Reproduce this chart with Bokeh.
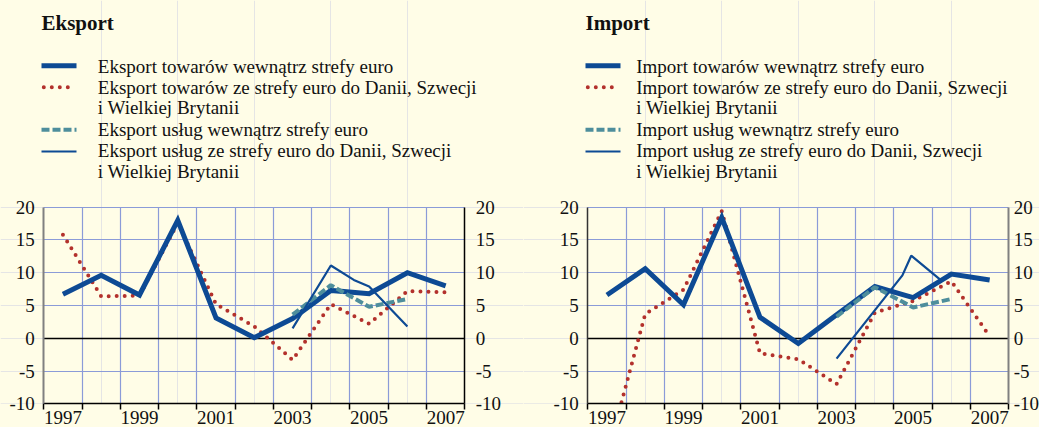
from bokeh.plotting import figure
from bokeh.models import Range1d, FixedTicker, LinearAxis, Grid, GlobalInlineStyleSheet
from bokeh.layouts import row
from bokeh.embed import file_html
from bokeh.resources import INLINE
from bokeh.core.properties import value

# ---------------- data ----------------
years = [1997, 1998, 1999, 2000, 2001, 2002, 2003, 2004, 2005, 2006, 2007]
label_years = [1997, 1999, 2001, 2003, 2005, 2007]
year_labels = ["1997", "1999", "2001", "2003", "2005", "2007"]
y_ticks = [-10, -5, 0, 5, 10, 15, 20]
y_labels = ["-10", "-5", "0", "5", "10", "15", "20"]

exp_goods_intra = [6.7, 9.6, 6.6, 18.0, 3.1, 0.1, 3.0, 7.3, 6.8, 10.0, 8.0]
exp_goods_extra = [15.8, 6.4, 6.5, 17.6, 5.2, 1.8, -3.3, 5.2, 2.2, 7.2, 7.0]
serv_years = [2003, 2004, 2005, 2006]
exp_serv_intra = [3.6, 8.1, 4.8, 6.0]
exp_serv_extra_x = [2003.0, 2004.0, 2004.6, 2005.0, 2006.0]
exp_serv_extra = [1.5, 11.1, 8.9, 7.9, 1.8]

imp_goods_intra = [6.6, 10.6, 5.1, 18.4, 3.2, -0.8, 3.6, 7.9, 6.2, 9.8, 8.9]
imp_goods_extra = [-18.0, 3.7, 7.4, 19.4, -2.3, -3.2, -7.0, 3.9, 5.7, 8.7, 0.3]
imp_serv_intra = [3.3, 7.8, 4.7, 6.0]
imp_serv_extra_x = [2003.0, 2004.72, 2004.95, 2005.7]
imp_serv_extra = [-3.1, 9.6, 12.6, 9.0]

exp_title = "Eksport"
exp_legend = [
    ["Eksport towarów wewnątrz strefy euro"],
    ["Eksport towarów ze strefy euro do Danii,  Szwecji", "i Wielkiej Brytanii"],
    ["Eksport usług wewnątrz strefy euro"],
    ["Eksport usług ze strefy euro do Danii,  Szwecji", "i Wielkiej Brytanii"],
]
imp_title = "Import"
imp_legend = [
    ["Import towarów wewnątrz strefy euro"],
    ["Import towarów ze strefy euro do Danii,  Szwecji", "i Wielkiej Brytanii"],
    ["Import usług wewnątrz strefy euro"],
    ["Import usług ze strefy euro do Danii,  Szwecji", "i Wielkiej Brytanii"],
]

# ---------------- styles ----------------
BG = "#FFFDE7"
BLUE = "#0D4A94"
RED = "#B3312C"
TEAL = "#4E8E9C"
GRID = "#8B9BD8"
TXT = "#111111"
FONT = "Liberation Serif"

STYLES = [
    dict(line_color=BLUE, line_width=5, line_join="miter"),
    dict(line_color=RED, line_width=4, line_dash="0 8", line_cap="round"),
    dict(line_color=TEAL, line_width=4, line_dash="8 3"),
    dict(line_color=BLUE, line_width=2.2),
]

H = 427
X0, X1 = 1996.5, 2007.5
Y0, Y1 = -10, 20
FRAME_TOP, FRAME_BOT = 206.7, 403.3
PX_PER_YEAR = 421.0 / 11
PX_PER_UNIT = (FRAME_BOT - FRAME_TOP) / (Y1 - Y0)
HAS_CB = "cross_bounds" in Grid.properties()


def make_panel(width, frame_left, title, entries, sample_x, text_x,
               goods_intra, goods_extra, serv_intra, serv_extra_x, serv_extra,
               left_col, left_w, left_so, right_col, right_w, right_so):
    xs0 = X0 - frame_left / PX_PER_YEAR
    xs1 = X0 + (width - frame_left) / PX_PER_YEAR
    ys1 = Y1 + FRAME_TOP / PX_PER_UNIT
    ys0 = Y0 - (H - FRAME_BOT) / PX_PER_UNIT

    def px(v):
        return X0 + (v - frame_left) / PX_PER_YEAR

    def py(v):
        return Y1 - (v - FRAME_TOP) / PX_PER_UNIT

    p = figure(width=width, height=H, x_range=Range1d(xs0, xs1), y_range=Range1d(ys0, ys1),
               output_backend="svg", toolbar_location=None, min_border=0,
               background_fill_color=BG, border_fill_color=BG,
               x_axis_location=None, y_axis_location=None)
    p.outline_line_color = None

    # grid lines
    xg = [y + 0.5 for y in years[:-1]]
    yg = [-5, 5, 10, 15, 20]
    if HAS_CB:
        g1 = Grid(dimension=0, ticker=FixedTicker(ticks=xg), cross_bounds=(Y0, Y1),
                  grid_line_color=GRID, grid_line_width=1.2)
        g2 = Grid(dimension=1, ticker=FixedTicker(ticks=yg), cross_bounds=(X0, X1),
                  grid_line_color=GRID, grid_line_width=1.2)
        g3 = Grid(dimension=1, ticker=FixedTicker(ticks=[0]), cross_bounds=(X0, X1),
                  grid_line_color="black", grid_line_width=1.5)
        for g in (g1, g2, g3):
            p.add_layout(g)
    else:
        p.segment(x0=xg, x1=xg, y0=[Y0] * len(xg), y1=[Y1] * len(xg),
                  line_color=GRID, line_width=1.2)
        p.segment(x0=[X0] * len(yg), x1=[X1] * len(yg), y0=yg, y1=yg,
                  line_color=GRID, line_width=1.2)
        p.segment(x0=[X0], x1=[X1], y0=[0], y1=[0], line_color="black", line_width=1.5)

    # data lines
    p.line(x=years, y=goods_extra, **STYLES[1])
    p.line(x=years, y=goods_intra, **STYLES[0])
    p.line(x=serv_years, y=serv_intra, **STYLES[2])
    p.line(x=serv_extra_x, y=serv_extra, **STYLES[3])
    # mask anything below the bottom of the plot area
    p.quad(left=[xs0], right=[xs1], bottom=[ys0], top=[Y0], fill_color=BG, line_color=None)

    # x axis
    xa = LinearAxis(ticker=FixedTicker(ticks=label_years,
                                       minor_ticks=[y - 0.5 for y in years] + [X1]))
    xa.major_label_overrides = {float(y): l for y, l in zip(label_years, year_labels)}
    xa.fixed_location = Y0
    xa.bounds = (X0, X1)
    xa.major_tick_out = 0
    xa.major_tick_in = 0
    xa.minor_tick_out = 6
    xa.minor_tick_in = 0
    xa.minor_tick_line_color = "black"
    xa.minor_tick_line_width = 1.5
    xa.axis_line_color = "black"
    xa.axis_line_width = 1.5
    xa.major_label_standoff = 1
    xa.major_label_text_font = FONT
    xa.major_label_text_font_size = "19px"
    xa.major_label_text_color = TXT
    p.add_layout(xa, "below")

    for side, col, lw, loc, so in (("left", left_col, left_w, X0, left_so),
                                   ("right", right_col, right_w, X1, right_so)):
        ya = LinearAxis(ticker=FixedTicker(ticks=y_ticks, minor_ticks=[]))
        ya.major_label_overrides = {float(t): l for t, l in zip(y_ticks, y_labels)}
        ya.fixed_location = loc
        ya.bounds = (Y0, Y1)
        ya.major_tick_out = 0
        ya.major_tick_in = 0
        ya.axis_line_color = col
        ya.axis_line_width = lw
        ya.major_label_standoff = so
        ya.major_label_text_font = FONT
        ya.major_label_text_font_size = "19px"
        ya.major_label_text_color = TXT
        p.add_layout(ya, side)

    # legend (positions in pixels, converted through the plot scales)
    p.text(x=[px(sample_x)], y=[py(22)], text=[title], text_font=value(FONT),
           text_font_size="21px", text_font_style="bold", text_color=TXT,
           text_baseline="alphabetic")
    sample_y = [65.3, 86.7, 129.3, 151.0]
    text_y = [[65.5], [86.5, 107.0], [129.0], [150.0, 170.5]]
    for i, (lines, st) in enumerate(zip(entries, STYLES)):
        if i == 1:
            lx = [sample_x + 2.3, sample_x + 32.3]
        else:
            lx = [sample_x, sample_x + 35]
        p.line(x=[px(v) for v in lx], y=[py(sample_y[i])] * 2, **st)
        for t, ty in zip(lines, text_y[i]):
            p.text(x=[px(text_x)], y=[py(ty)], text=[t], text_font=value(FONT),
                   text_font_size="19px", text_color=TXT, text_baseline="alphabetic")
    return p


left = make_panel(523, 43.3, exp_title, exp_legend, 41, 97.3,
                  exp_goods_intra, exp_goods_extra, exp_serv_intra,
                  exp_serv_extra_x, exp_serv_extra,
                  "#808080", 2, 9, "black", 1.5, 11)
right = make_panel(516, 64.3, imp_title, imp_legend, 62, 112.7,
                   imp_goods_intra, imp_goods_extra, imp_serv_intra,
                   imp_serv_extra_x, imp_serv_extra,
                   "#333333", 1.5, 9, "#808080", 2, 5)

layout = row(left, right, spacing=0,
             stylesheets=[GlobalInlineStyleSheet(
                 css="html, body { background-color: #FFFDE7; margin: 0; overflow: hidden; }")])

open("out.html", "w").write(file_html(layout, INLINE))
